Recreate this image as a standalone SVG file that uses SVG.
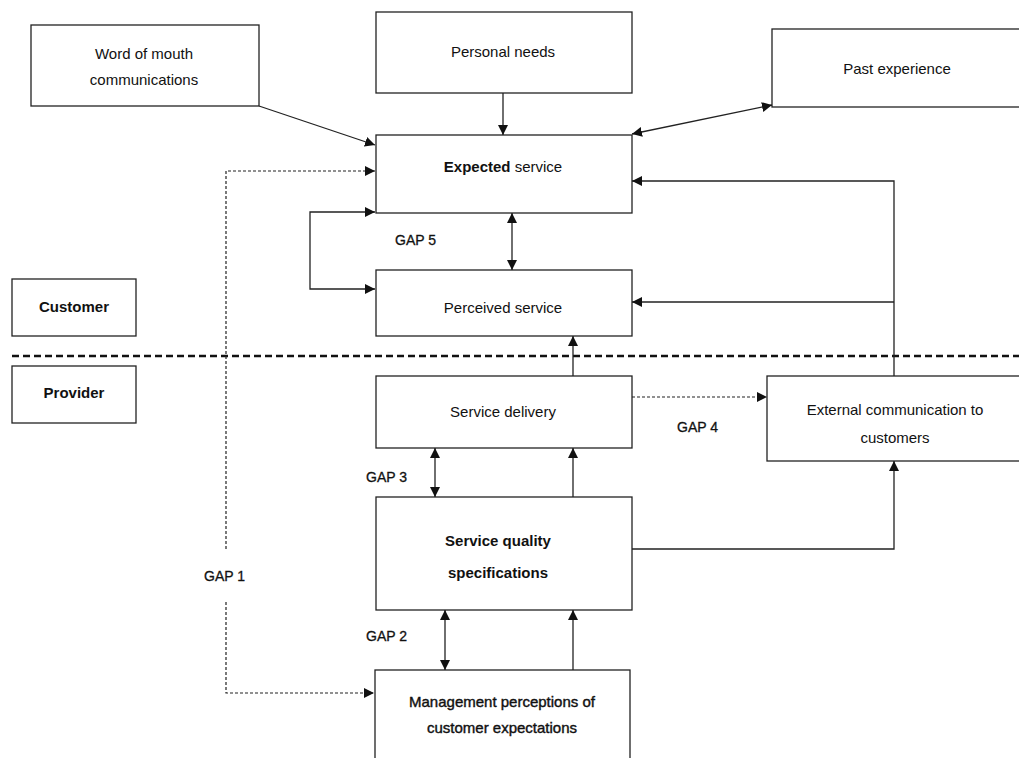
<svg xmlns="http://www.w3.org/2000/svg" width="1019" height="758" viewBox="0 0 1019 758">
<style>
.box{fill:#fff;stroke:#222;stroke-width:1.3}
.t{font-family:"Liberation Sans",Arial,sans-serif;font-size:15px;fill:#111;text-anchor:middle}
.b{font-weight:bold}
.g{font-family:"Liberation Sans",Arial,sans-serif;font-size:14px;fill:#111;stroke:#111;stroke-width:0.3}
.c{fill:none;stroke:#222;stroke-width:1.3}
.d{fill:none;stroke:#222;stroke-width:1.2;stroke-dasharray:3 2}
.sep{fill:none;stroke:#111;stroke-width:2.5;stroke-dasharray:7 4}
</style>
<defs>
<marker id="ah" viewBox="0 0 10 10" refX="10" refY="5" markerWidth="10" markerHeight="10" markerUnits="userSpaceOnUse" orient="auto-start-reverse">
<path d="M0,0 L10,5 L0,10 z" fill="#111"/>
</marker>
</defs>
<rect width="1019" height="758" fill="#fff"/>
<line class="sep" x1="12" y1="356" x2="1019" y2="356"/>

<g id="word-of-mouth"><rect class="box" x="31" y="25" width="228" height="81"/>
<text class="t" x="144" y="59">Word of mouth</text><text class="t" x="144" y="85">communications</text></g>
<g id="personal-needs"><rect class="box" x="376" y="12" width="256" height="81"/>
<text class="t" x="503" y="57">Personal needs</text></g>
<g id="past-experience"><rect class="box" x="772" y="29" width="260" height="78"/>
<text class="t" x="897" y="74">Past experience</text></g>
<g id="expected-service"><rect class="box" x="376" y="135" width="256" height="78"/>
<text class="t" x="503" y="172"><tspan class="b">Expected</tspan> service</text></g>
<g id="perceived-service"><rect class="box" x="376" y="270" width="256" height="66"/>
<text class="t" x="503" y="313">Perceived service</text></g>
<g id="customer"><rect class="box" x="12" y="279" width="124" height="57"/>
<text class="t b" x="74" y="312">Customer</text></g>
<g id="provider"><rect class="box" x="12" y="366" width="124" height="57"/>
<text class="t b" x="74" y="398">Provider</text></g>
<g id="service-delivery"><rect class="box" x="376" y="376" width="256" height="72"/>
<text class="t" x="503" y="417">Service delivery</text></g>
<g id="external-communication"><rect class="box" x="767" y="376" width="260" height="85"/>
<text class="t" x="895" y="415">External communication to</text><text class="t" x="895" y="443">customers</text></g>
<g id="service-quality-specifications"><rect class="box" x="376" y="497" width="256" height="113"/>
<text class="t b" x="498" y="546">Service quality</text><text class="t b" x="498" y="578">specifications</text></g>
<g id="management-perceptions"><rect class="box" x="375" y="670" width="255" height="100"/>
<text class="t" x="502" y="707" style="stroke:#111;stroke-width:0.4">Management perceptions of</text><text class="t" x="502" y="733" style="stroke:#111;stroke-width:0.4">customer expectations</text></g>

<g id="connectors">
<line class="c" x1="259" y1="106" x2="375" y2="145" marker-end="url(#ah)"/>
<line class="c" x1="503" y1="93" x2="503" y2="135" marker-end="url(#ah)"/>
<line class="c" x1="632" y1="134" x2="772" y2="105" marker-start="url(#ah)" marker-end="url(#ah)"/>
<polyline class="d" points="226,549 226,171 375,171" marker-end="url(#ah)"/>
<polyline class="d" points="226,602 226,693 374,693" marker-end="url(#ah)"/>
<polyline class="c" points="375,212 310,212 310,289 375,289" marker-start="url(#ah)" marker-end="url(#ah)"/>
<line class="c" x1="512" y1="213" x2="512" y2="270" marker-start="url(#ah)" marker-end="url(#ah)"/>
<line class="c" x1="573" y1="376" x2="573" y2="336" marker-end="url(#ah)"/>
<polyline class="c" points="894,376 894,181 632,181" marker-end="url(#ah)"/>
<line class="c" x1="894" y1="302" x2="632" y2="302" marker-end="url(#ah)"/>
<line class="d" x1="632" y1="397" x2="767" y2="397" marker-end="url(#ah)"/>
<polyline class="c" points="632,549 894,549 894,461" marker-end="url(#ah)"/>
<line class="c" x1="435" y1="448" x2="435" y2="497" marker-start="url(#ah)" marker-end="url(#ah)"/>
<line class="c" x1="573" y1="497" x2="573" y2="448" marker-end="url(#ah)"/>
<line class="c" x1="445" y1="610" x2="445" y2="670" marker-start="url(#ah)" marker-end="url(#ah)"/>
<line class="c" x1="573" y1="670" x2="573" y2="610" marker-end="url(#ah)"/>
</g>

<text class="g" x="395" y="245">GAP 5</text>
<text class="g" x="677" y="432">GAP 4</text>
<text class="g" x="366" y="482">GAP 3</text>
<text class="g" x="366" y="641">GAP 2</text>
<text class="g" x="204" y="581">GAP 1</text>
</svg>
